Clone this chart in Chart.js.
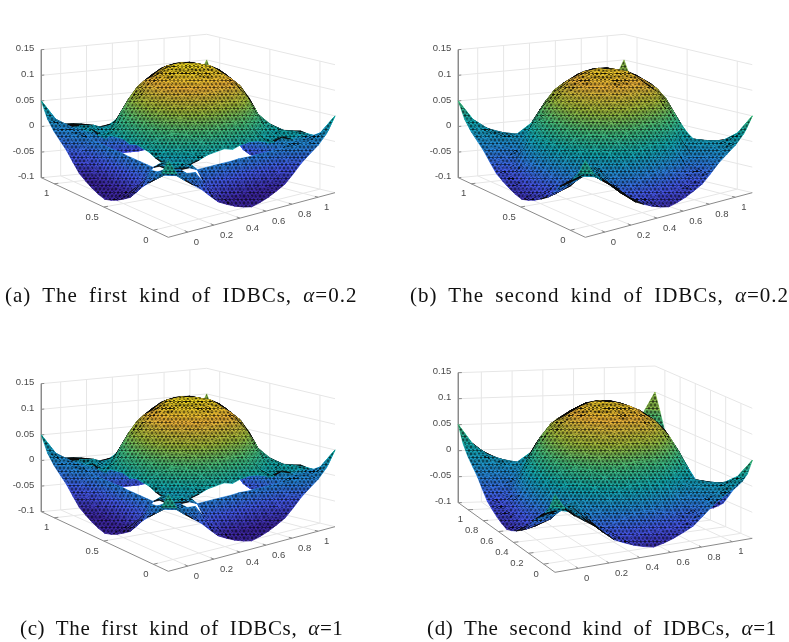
<!DOCTYPE html>
<html>
<head>
<meta charset="UTF-8">
<script src="https://cdn.jsdelivr.net/npm/chart.js"></script>
<style>
  html, body { margin: 0; background: #fff; }
  #page { position: relative; width: 789px; height: 642px; overflow: hidden; }
  canvas { position: absolute; }
  .cap { position: absolute; font: 21px "Liberation Serif", serif; letter-spacing: 1px; word-spacing: 5px; white-space: nowrap; color: #111; }
  .short { letter-spacing: .65px; }
</style>
</head>
<body>
<div id="page">
  <canvas id="a" width="395" height="321" style="left:0;top:0"></canvas>
  <canvas id="b" width="394" height="321" style="left:395px;top:0"></canvas>
  <canvas id="c" width="395" height="321" style="left:0;top:321px"></canvas>
  <canvas id="d" width="394" height="321" style="left:395px;top:321px"></canvas>
  <div class="cap" style="left:5px;top:283px">(a) The first kind of IDBCs, <i>α</i>=0.2</div>
  <div class="cap" style="left:410px;top:283px">(b) The second kind of IDBCs, <i>α</i>=0.2</div>
  <div class="cap short" style="left:20px;top:616px">(c) The first kind of IDBCs, <i>α</i>=1</div>
  <div class="cap short" style="left:427px;top:616px">(d) The second kind of IDBCs, <i>α</i>=1</div>
</div>
<script>
// surface heights, one quarter of the square (the rest mirrors it)
const zFirstKind = [
  [.05, .02, .002, -.011, -.024, -.041, -.057, -.066, -.074, -.08, -.084],
  [.02, .018, .006, .006, .004, -.02, -.038, -.052, -.058, -.06, -.06],
  [.002, .006, .008, .008, .008, 0, 0, 0, 0, 0, .001],
  [-.011, .006, .008, .004, .012, .006, .01, .016, .018, .02, .015],
  [-.024, .004, .008, .012, .004, -.004, .016, .036, .05, .058, .06],
  [-.041, -.02, 0, .006, -.004, .025, .05, .07, .084, .092, .095],
  [-.057, -.038, 0, .01, .016, .05, .076, .096, .106, .114, .116],
  [-.066, -.052, 0, .016, .036, .07, .096, .112, .122, .131, .134],
  [-.074, -.058, 0, .018, .05, .084, .106, .122, .133, .141, .143],
  [-.08, -.06, 0, .02, .058, .092, .114, .131, .141, .147, .149],
  [-.084, -.06, .001, .015, .06, .095, .116, .134, .143, .149, .151]
];
const zSecondKind = [
  [.05, .02, .002, -.011, -.024, -.041, -.057, -.066, -.074, -.08, -.084],
  [.02, .018, .004, -.008, -.022, -.04, -.053, -.058, -.062, -.062, -.06],
  [.002, .004, .004, -.004, -.02, -.036, -.045, -.04, -.034, -.028, -.025],
  [-.011, -.008, -.004, 0, -.006, -.022, -.022, 0, .012, .02, .022],
  [-.024, -.022, -.02, -.006, 0, -.008, .018, .036, .049, .056, .058],
  [-.041, -.04, -.036, -.022, -.008, .025, .048, .068, .08, .088, .09],
  [-.057, -.053, -.045, -.022, .018, .048, .072, .09, .1, .106, .108],
  [-.066, -.058, -.04, 0, .036, .068, .09, .1, .112, .12, .122],
  [-.074, -.062, -.034, .012, .049, .08, .1, .112, .122, .13, .132],
  [-.08, -.062, -.028, .02, .056, .088, .106, .12, .13, .136, .138],
  [-.084, -.06, -.025, .022, .058, .09, .108, .122, .132, .138, .14]
];
// the two far edges of the first kind surface sit higher than the near ones
const farEdgeFirstKind = [.05, .02, .002, -.011, -.024, -.034, -.042, -.048, -.052, -.054, -.055];
// height along the far edges, counted from the back corner
const backCornerEdge = [.1, .067, .033, .003];
// the right shoulder of the hump stands a little higher than the left one
const rightShoulderLift = [0, 0, 0, .004, .008, .012, .014, .012, .008, .004];
// for each column of cells, the row where the first kind surface is torn (-1: not torn)
const tornCells = [-1, -1, -1, 1, 1, 2, 2, 2, 2, 2, 2, 2, 2, 2, 2, 2, 2, 2, -1, -1];

const zTicks = [-.1, -.05, 0, .05, .1, .15];
const zTickLabels = ['-0.1', '-0.05', '0', '0.05', '0.1', '0.15'];
const xTicks = [0, .2, .4, .6, .8, 1];
const xTickLabels = ['0', '0.2', '0.4', '0.6', '0.8', '1'];
const yTicksCoarse = [0, .5, 1];
const yLabelsCoarse = ['0', '0.5', '1'];

// parula
const parula = [[62,38,168],[70,93,246],[37,144,226],[18,178,185],[70,198,130],[168,196,62],[248,186,60],[249,235,30]];

const views = {
  a: { front: [168.3, 237.3], left: [41.3, 177.7], right: [335, 192.7], back: [206.7, 162.3], k: 512, yTicks: yTicksCoarse, yLabels: yLabelsCoarse, z: zFirstKind, far: farEdgeFirstKind, torn: true },
  b: { front: [190.3, 237.3], left: [63.3, 177.7], right: [357.3, 192.7], back: [229, 162.3], k: 512, yTicks: yTicksCoarse, yLabels: yLabelsCoarse, z: zSecondKind, torn: false },
  c: { front: [168.3, 250.3], left: [41.3, 190.7], right: [335, 205.7], back: [206.7, 175.3], k: 512, yTicks: yTicksCoarse, yLabels: yLabelsCoarse, z: zFirstKind, far: farEdgeFirstKind, torn: true },
  d: { front: [160, 251.3], left: [63.3, 181.7], right: [357.3, 217.3], back: [260, 175], k: 520, yTicks: xTicks, yLabels: xTickLabels, z: zSecondKind, torn: false }
};

const N = 20;
const axisMin = -.15, axisMax = 1.13;
const meshTiles = {};

function colorOf(z) {
  const t = Math.max(0, Math.min(1, (z + .09) / .247)) * (parula.length - 1);
  const n = Math.min(Math.floor(t), parula.length - 2), f = t - n;
  return `rgb(${parula[n].map((v, k) => Math.round(v + (parula[n + 1][k] - v) * f))})`;
}

function meshPattern(ctx, alpha) {
  if (meshTiles[alpha]) return meshTiles[alpha];
  const tile = document.createElement('canvas');
  tile.width = 8; tile.height = 7;
  const g = tile.getContext('2d');
  g.strokeStyle = `rgba(0,0,0,${alpha})`;
  g.lineWidth = 1;
  g.beginPath();
  g.moveTo(0, 0); g.lineTo(8, 0);
  g.moveTo(0, 3.5); g.lineTo(8, 3.5);
  g.moveTo(0, 7); g.lineTo(8, 7);
  g.moveTo(0, 0); g.lineTo(4, 7); g.lineTo(8, 0);
  g.moveTo(4, 0); g.lineTo(0, 7);
  g.moveTo(4, 0); g.lineTo(8, 7);
  g.stroke();
  meshTiles[alpha] = ctx.createPattern(tile, 'repeat');
  return meshTiles[alpha];
}

function project(v, u, w, z) {
  const mix = k => (1 - u) * (1 - w) * v.front[k] + u * (1 - w) * v.right[k] + (1 - u) * w * v.left[k] + u * w * v.back[k];
  return { x: mix(0), y: mix(1) - v.k * (z + .1) };
}
const tickPos = t => (t - axisMin) / (axisMax - axisMin);

function heightAt(v, i, j) {
  if (i === N && N - j < backCornerEdge.length) return backCornerEdge[N - j];
  if (j === N && N - i < backCornerEdge.length) return backCornerEdge[N - i];
  if (v.far && (i === N || j === N)) return v.far[Math.min(i === N ? j : i, N - (i === N ? j : i))];
  const lift = i >= 12 && i < N && j < 10 ? rightShoulderLift[j] : 0;
  return v.z[Math.min(i, N - i)][Math.min(j, N - j)] + lift;
}

function lineSet(points, color, width) {
  return { data: points, showLine: true, fill: false, borderColor: color, borderWidth: width, pointRadius: 0, tension: 0 };
}

// smooth colour over one triangle, running across the lines of equal height
function shade(ctx, pts, zs) {
  const order = [0, 1, 2].sort((p, q) => zs[p] - zs[q]);
  const [lo, mid, hi] = order.map(n => pts[n]);
  const [zl, zm, zh] = order.map(n => zs[n]);
  if (zh - zl < 1e-4) return colorOf(zl);
  const f = (zm - zl) / (zh - zl);
  const ex = mid.x - (lo.x + (hi.x - lo.x) * f), ey = mid.y - (lo.y + (hi.y - lo.y) * f);
  let gx = hi.x - lo.x, gy = hi.y - lo.y;
  const len = ex * ex + ey * ey;
  if (len > 1e-3) {
    const s = (gx * -ey + gy * ex) / len;
    gx = -ey * s; gy = ex * s;
  }
  const grad = ctx.createLinearGradient(lo.x, lo.y, lo.x + gx, lo.y + gy);
  for (let s = 0; s <= 4; s++) grad.addColorStop(s / 4, colorOf(zl + (zh - zl) * s / 4));
  return grad;
}

function triangle(ctx, v, cells) {
  const zs = cells.map(([i, j]) => heightAt(v, i, j));
  const pts = cells.map(([i, j], n) => project(v, i / N, j / N, zs[n]));
  // the torn strips are coloured darker than their height would give
  const tints = cells.map(([i, j], n) => zs[n] - (v.torn && (i <= 2 || j <= 2) ? .025 : 0));
  const area = Math.abs((pts[1].x - pts[0].x) * (pts[2].y - pts[0].y) - (pts[2].x - pts[0].x) * (pts[1].y - pts[0].y)) / 2;
  const spike = cells.some(([i, j]) => i === j && (i === 0 || i === N));
  const mean = (zs[0] + zs[1] + zs[2]) / 3;
  const closed = [...pts, pts[0]];
  if (area < 12) {
    return [{ data: closed, showLine: true, fill: 'shape', backgroundColor: '#0a0a0a', borderColor: '#0a0a0a', borderWidth: .8, pointRadius: 0, tension: 0 }];
  }
  const paint = spike ? colorOf(mean) : shade(ctx, pts, tints);
  const mesh = meshPattern(ctx, area < 40 ? .8 : .5);
  return [
    { data: closed, showLine: true, fill: 'shape', backgroundColor: mesh, borderColor: 'rgba(0,0,0,0)', borderWidth: 0, pointRadius: 0, tension: 0 },
    { data: closed, showLine: true, fill: 'shape', backgroundColor: paint, borderColor: paint, borderWidth: .8, pointRadius: 0, tension: 0 }
  ];
}

function surface(ctx, v) {
  const cells = [];
  for (let s = 0; s <= 2 * N - 2; s++) {
    for (let i = 0; i < N; i++) {
      const j = s - i;
      if (j < 0 || j >= N) continue;
      if (v.torn && (tornCells[j] === i || tornCells[i] === j)) continue;
      cells.push(...triangle(ctx, v, [[i, j], [i + 1, j], [i, j + 1]]));
      cells.push(...triangle(ctx, v, [[i + 1, j], [i + 1, j + 1], [i, j + 1]]));
    }
  }
  return cells;
}

function frame(v) {
  const grid = '#e6e6e6', rule = '#8a8a8a', out = [];
  const at = (u, w, z) => project(v, u, w, z);
  xTicks.forEach(t => {
    const u = tickPos(t);
    out.push(lineSet([at(u, 0, -.1), at(u, 1, -.1), at(u, 1, .15)], grid, 1));
  });
  v.yTicks.forEach(t => {
    const w = tickPos(t);
    out.push(lineSet([at(0, w, -.1), at(1, w, -.1), at(1, w, .15)], grid, 1));
  });
  zTicks.forEach(z => out.push(lineSet([at(0, 1, z), at(1, 1, z), at(1, 0, z)], grid, 1)));
  out.unshift(lineSet([at(0, 1, .15), at(0, 1, -.1), at(0, 0, -.1), at(1, 0, -.1)], rule, 1));
  zTicks.forEach(z => out.unshift(lineSet([at(0, 1, z), at(.018, 1, z)], rule, 1)));
  xTicks.forEach(t => out.unshift(lineSet([at(tickPos(t), 0, -.1), at(tickPos(t), .025, -.1)], rule, 1)));
  v.yTicks.forEach(t => out.unshift(lineSet([at(0, tickPos(t), -.1), at(.025, tickPos(t), -.1)], rule, 1)));
  return out;
}

const tickText = {
  id: 'tickText',
  afterDatasetsDraw(chart, args, opts) {
    const v = opts.view, ctx = chart.ctx, sx = chart.scales.x, sy = chart.scales.y;
    ctx.save();
    ctx.font = '9.5px "Liberation Sans", Arial, sans-serif';
    ctx.fillStyle = '#4a4a4a';
    ctx.textBaseline = 'middle';
    ctx.textAlign = 'right';
    zTicks.forEach((z, n) => {
      const p = project(v, 0, 1, z);
      ctx.fillText(zTickLabels[n], sx.getPixelForValue(p.x) - 7, sy.getPixelForValue(p.y) - 1);
    });
    ctx.textAlign = 'left';
    xTicks.forEach((t, n) => {
      const p = project(v, tickPos(t), 0, -.1);
      ctx.fillText(xTickLabels[n], sx.getPixelForValue(p.x) + 6, sy.getPixelForValue(p.y) + 10);
    });
    ctx.textAlign = 'right';
    v.yTicks.forEach((t, n) => {
      const p = project(v, 0, tickPos(t), -.1);
      ctx.fillText(v.yLabels[n], sx.getPixelForValue(p.x) - 5, sy.getPixelForValue(p.y) + 10);
    });
    ctx.restore();
  }
};

function draw(id) {
  const v = views[id], node = document.getElementById(id), ctx = node.getContext('2d');
  return new Chart(ctx, {
    type: 'scatter',
    data: { datasets: [...surface(ctx, v), ...frame(v)] },
    options: {
      responsive: false,
      animation: false,
      events: [],
      layout: { padding: 0 },
      scales: {
        x: { type: 'linear', display: false, min: 0, max: node.width },
        y: { type: 'linear', display: false, min: 0, max: node.height, reverse: true }
      },
      plugins: { legend: { display: false }, tooltip: { enabled: false }, tickText: { view: v } }
    },
    plugins: [tickText]
  });
}

['a', 'b', 'c', 'd'].forEach(draw);
</script>
</body>
</html>
